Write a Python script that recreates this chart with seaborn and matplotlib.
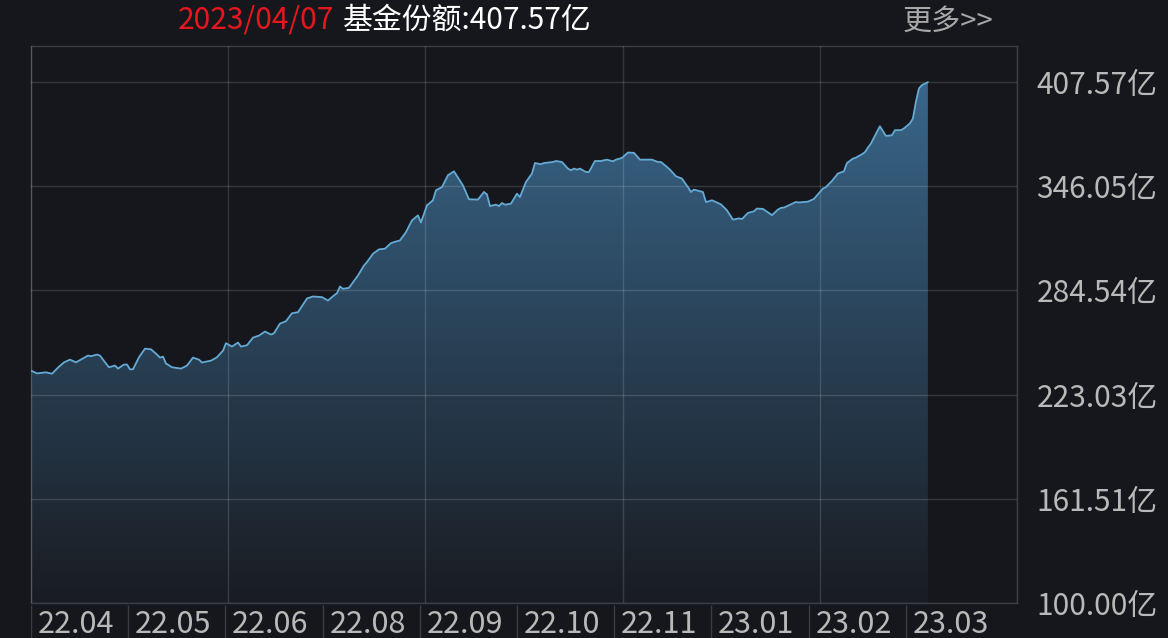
import matplotlib
matplotlib.use("Agg")
import matplotlib.pyplot as plt
import numpy as np
import pandas as pd
import seaborn as sns
from matplotlib.colors import LinearSegmentedColormap

# trading-day index and fund share (亿份)
day = [0, 2, 5, 7, 9, 11, 13, 15, 16, 19, 20, 22, 23, 25, 26, 28, 29, 31, 32, 33,
       34, 36, 38, 40, 42, 43, 44, 45, 47, 50, 52, 54, 56, 57, 59, 60, 62, 64, 65, 67,
       69, 70, 72, 74, 76, 78, 80, 81, 83, 85, 87, 89, 92, 94, 97, 99, 101, 102, 103, 104,
       106, 109, 111, 112, 114, 116, 118, 120, 121, 123, 125, 127, 129, 130, 132, 134, 135, 137, 139, 141,
       144, 146, 149, 151, 152, 153, 155, 156, 157, 158, 160, 162, 163, 165, 167, 168, 170, 171, 174, 175,
       177, 179, 180, 181, 182, 183, 185, 186, 188, 190, 192, 194, 195, 197, 199, 201, 203, 207, 209, 210,
       212, 213, 215, 217, 219, 220, 221, 224, 225, 226, 227, 229, 230, 232, 234, 236, 237, 239, 241, 242,
       244, 246, 247, 249, 250, 251, 255, 256, 259, 261, 264, 265, 267, 269, 271, 272, 274, 275, 277, 278,
       279, 280, 282, 283, 284, 285, 287, 288, 290, 291, 293, 294, 295, 296, 297, 299]
share = [237.2, 235.6, 236.2, 235.4, 239.0, 242.1, 243.7, 242.1, 243.1, 246.1, 245.7, 246.7, 246.1, 241.4, 239.2, 240.2, 238.4, 240.8, 240.8, 238.0,
         238.0, 245.1, 250.2, 249.8, 246.7, 244.9, 245.5, 241.4, 239.2, 238.4, 240.2, 244.9, 243.7, 242.0, 242.7, 243.1, 245.1, 249.0, 253.4, 251.4,
         253.8, 251.4, 252.2, 256.7, 257.9, 260.3, 258.5, 259.3, 265.0, 266.4, 271.1, 271.7, 279.8, 281.0, 280.6, 278.6, 281.6, 282.9, 286.9, 285.5,
         286.1, 293.4, 299.3, 301.3, 306.2, 308.8, 309.2, 312.5, 313.1, 314.1, 319.0, 325.9, 328.9, 324.7, 334.8, 337.8, 343.7, 345.6, 352.6, 354.9,
         346.6, 338.4, 338.2, 342.7, 341.3, 334.4, 335.2, 334.4, 336.2, 335.2, 335.8, 341.7, 339.7, 348.6, 353.6, 359.8, 359.1, 359.8, 360.4, 361.0,
         360.4, 356.5, 355.5, 356.5, 355.9, 356.5, 354.5, 354.5, 361.0, 361.0, 361.8, 360.8, 361.8, 362.8, 366.0, 365.8, 361.8, 361.8, 360.4, 360.4,
         357.5, 355.9, 352.0, 350.6, 345.6, 342.7, 344.1, 342.7, 336.8, 337.2, 337.8, 336.2, 335.4, 331.9, 326.4, 327.1, 326.7, 330.3, 331.3, 332.9,
         332.7, 330.3, 329.0, 332.3, 333.3, 333.5, 336.8, 336.5, 337.0, 338.6, 344.7, 345.6, 349.2, 353.6, 354.9, 359.8, 362.4, 363.0, 365.0, 366.2,
         368.9, 371.3, 378.2, 381.5, 378.6, 375.8, 376.2, 379.2, 379.2, 380.2, 383.2, 386.1, 395.9, 403.8, 405.8, 407.57]

month_labels = ["22.04", "22.05", "22.06", "22.08", "22.09", "22.10", "22.11", "23.01", "23.02", "23.03"]
y_ticks = [100.00, 161.51, 223.03, 284.54, 346.05, 407.57]
date_label = "2023/04/07"
latest_label = "基金份额:407.57亿"
more_label = "更多>>"

BG = "#15171c"
LINE = "#64aad4"
FILL_TOP = "#3b6b91"
FILL_BOTTOM = "#191c22"
LABEL = "#b9b9b9"
RED = "#e5171c"
EDGE = "#3a3d42"

sns.set_theme(style="dark")
plt.rcParams["font.family"] = ["Noto Sans CJK SC", "DejaVu Sans"]

W, H = 1168, 638
fig = plt.figure(figsize=(W / 100, H / 100), dpi=100, facecolor=BG)

# main chart area
ax = fig.add_axes([31 / W, 1 - 603 / H, 986 / W, 557 / H])
ax.set_facecolor(BG)
df = pd.DataFrame({"day": day, "share": share})

x_max, y_min, y_max = 328.7, 100.0, 428.9

# gradient area under the curve
area = ax.fill_between(df["day"], df["share"], y_min, color="none", lw=0)
cmap = LinearSegmentedColormap.from_list("area", [FILL_BOTTOM, FILL_TOP])
grad = np.linspace(1, 0, 256).reshape(-1, 1)
im = ax.imshow(grad, cmap=cmap, aspect="auto", origin="upper",
               extent=[0, x_max, y_min, y_max], zorder=1)
im.set_clip_path(area.get_paths()[0], transform=ax.transData)

sns.lineplot(data=df, x="day", y="share", ax=ax, color=LINE, lw=1.3, zorder=4)

ax.set_xlim(0, x_max)
ax.set_ylim(y_min, y_max)
ax.set_xlabel("")
ax.set_ylabel("")

ax.set_xticks(np.linspace(0, x_max, 6))
ax.set_xticklabels([])
ax.yaxis.tick_right()
ax.set_yticks(y_ticks)
ax.set_yticklabels([f"{v:.2f}亿" for v in y_ticks])
ax.tick_params(axis="both", length=0)
ax.tick_params(axis="y", pad=14, labelsize=21.5, colors=LABEL)
ax.grid(True, color="white", alpha=0.14, lw=1)
ax.set_axisbelow(False)
for sp in ax.spines.values():
    sp.set_visible(True)
    sp.set_color(EDGE)
    sp.set_linewidth(1)

# month band at the bottom
bx = fig.add_axes([31 / W, 0, 986 / W, 33 / H])
bx.set_facecolor(BG)
cell = 97.2
bx.set_xlim(0, 986 / cell)
bx.set_ylim(0, 1)
bx.axis("off")
for i, lab in enumerate(month_labels):
    bx.text(i + 0.07, 0.42, lab, ha="left", va="center", fontsize=22, color=LABEL)
bx.vlines(range(len(month_labels)), 0, 1, color=EDGE, lw=1)

# header
t1 = fig.text(178 / W, 1 - 20 / H, date_label, ha="left", va="center",
              fontsize=21.5, color=RED)
ax.annotate(latest_label, xy=(1, 0.5), xycoords=t1, xytext=(6, 0),
            textcoords="offset points", ha="left", va="center",
            fontsize=21.5, color="white")
fig.text(993 / W, 1 - 22 / H, more_label, ha="right", va="center",
         fontsize=21, color="#a8a8a8")

fig.savefig("out.png", dpi=100, facecolor=BG)
